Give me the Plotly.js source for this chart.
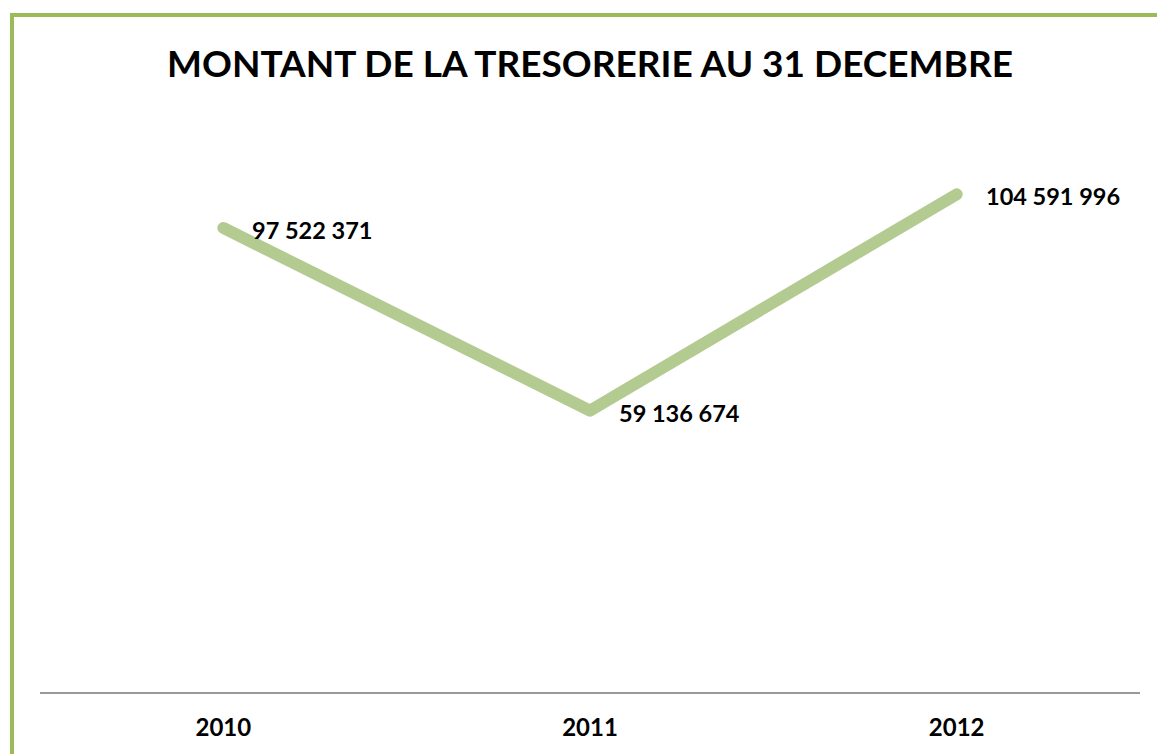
<!DOCTYPE html>
<html>
<head>
<meta charset="utf-8">
<script src="https://cdn.plot.ly/plotly-3.0.1.min.js"></script>
<style>
html,body{margin:0;padding:0;background:#fff;}
#wrap{position:relative;width:1157px;height:754px;}
#chart{position:absolute;left:0;top:0;width:1157px;height:754px;}
#frame{position:absolute;left:10px;top:13px;right:0;bottom:0;border-left:4px solid #9BBB59;border-top:4px solid #9BBB59;pointer-events:none;}
.js-line{stroke-linecap:round;stroke-linejoin:round;}
</style>
</head>
<body>
<div id="wrap"><div id="chart"></div><div id="frame"></div></div>
<script>
const years = ['2010', '2011', '2012'];
const tresorerie = [97522371, 59136674, 104591996];
const labels = ['97 522 371', '59 136 674', '104 591 996'];
const titleText = 'MONTANT DE LA TRESORERIE AU 31 DECEMBRE';

const font = 'Lato, "Open Sans", sans-serif';

const trace = {
  x: years,
  y: tresorerie,
  type: 'scatter',
  mode: 'lines',
  line: {color: '#B3CB91', width: 12, shape: 'linear'},
  hoverinfo: 'skip'
};

const annotations = years.map((yr, i) => ({
  x: i, y: tresorerie[i], xref: 'x', yref: 'y',
  text: '<b>' + labels[i] + '</b>', showarrow: false,
  xanchor: 'left', yanchor: 'middle',
  xshift: 27, yshift: -2,
  font: {family: font, size: 23.5, color: '#000'}
}));

const layout = {
  width: 1157, height: 754,
  margin: {l: 40, r: 17, t: 121, b: 62},
  paper_bgcolor: '#fff', plot_bgcolor: '#fff',
  showlegend: false,
  title: {text: '<b>' + titleText + '</b>', x: 0.51, xanchor: 'center', y: 0.915, yanchor: 'middle',
          font: {family: font, size: 37, color: '#000'}},
  xaxis: {type: 'category', range: [-0.5, 2.5], showline: true, linecolor: '#999', linewidth: 2,
          showgrid: false, zeroline: false, ticks: '', ticklabelstandoff: 13,
          tickfont: {family: font, size: 24, color: '#000', weight: 'bold'}, fixedrange: true},
  yaxis: {range: [0, 120000000], showticklabels: false, showline: false, ticks: '', showgrid: false, zeroline: false, fixedrange: true},
  annotations: annotations
};

Plotly.newPlot('chart', [trace], layout, {displayModeBar: false, staticPlot: true});
</script>
</body>
</html>
